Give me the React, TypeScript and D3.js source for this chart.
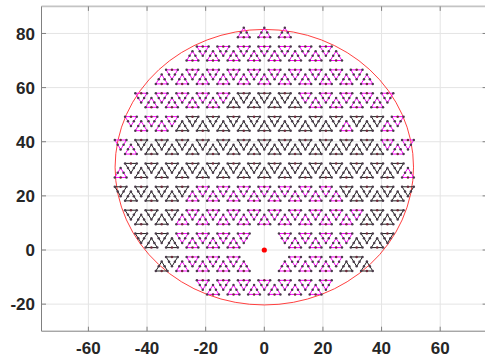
import React from 'react';
import * as d3 from 'd3';

// Axis ticks
const X_TICKS = [-60, -40, -20, 0, 20, 40, 60];
const Y_TICKS = [-20, 0, 20, 40, 60, 80];

// Triangle layout: strips from top (k=0) to bottom; each char is one
// triangle at lattice column m = index + M_MIN ('m' magenta, 'k' black, '.' none)
const M_MIN = -15;
const STRIPS = [
  '.............m.m.m.............',
  '........mmmmmmmmmmmmmmm........',
  '.....mmmmmmmmmmmmmmmmmmmmm.....',
  '...mmmmmmmmmkkkkkkkmmmmmmmmm...',
  '..mmmmmkkkkkkkkkkkkkkkkmkkkmm..',
  '.mmkkkkkkkkkkkkkkkkkkkkkkkkmmm.',
  '.mkkkkkkkkkkkkkkkkkkkkkkkkkkkm.',
  '.kkkkkkkmmmmmmmmmmmmmmmkkkkkkk.',
  '..kkkkkmmmmmmmmmmmmmmmmmmkkkk..',
  '...kkkkmmmmmmm...mmmmmmmkkkk...',
  '.....kkmmmmmmm...mmmmmmkkk.....',
  '.........mmmmmmmmmmmmm.........',
];

// Lattice geometry (data units)
const HALF_PITCH = 3.5;   // x distance between neighbouring triangles
const STRIP_H = 8.64;     // strip height
const TOP_STRIP_BOTTOM = 76.92;
const SIDE = 4;           // triangle side

// Circle and feed point
const CIRCLE_CENTER = [0, 30.6];
const CIRCLE_R = 50.9;
const FEED = [0, 0];

const COLORS: Record<string, string> = { m: '#ff00ff', k: '#222222' };

export default function App() {
  const W = 485, H = 362;
  const x = d3.scaleLinear().domain([-76, 76]).range([41.5, 487.1]);
  const y = d3.scaleLinear().domain([-30, 90]).range([331.2, 6.4]);

  const th = (SIDE * Math.sqrt(3)) / 2;
  type Tri = { pts: [number, number][]; color: string; key: string };
  const tris: Tri[] = [];
  STRIPS.forEach((row, k) => {
    const yb = TOP_STRIP_BOTTOM - STRIP_H * k;
    row.split('').forEach((ch, i) => {
      if (ch === '.') return;
      const m = i + M_MIN;
      const up = (((m + k) % 2) + 2) % 2 === 0;
      const xc = m * HALF_PITCH;
      let pts: [number, number][];
      if (up) {
        const cy = yb + STRIP_H / 3;
        pts = [[xc, cy + (2 * th) / 3], [xc + SIDE / 2, cy - th / 3], [xc - SIDE / 2, cy - th / 3]];
      } else {
        const cy = yb + (2 * STRIP_H) / 3;
        pts = [[xc, cy - (2 * th) / 3], [xc - SIDE / 2, cy + th / 3], [xc + SIDE / 2, cy + th / 3]];
      }
      tris.push({ pts, color: COLORS[ch], key: `${k}-${m}` });
    });
  });

  const line = d3.line<[number, number]>().x(d => x(d[0])).y(d => y(d[1]));

  const font = "'Liberation Sans', Arial, Helvetica, sans-serif";
  const x0 = x.range()[0], x1 = x.range()[1];
  const y0 = y.range()[1], y1 = y.range()[0];

  return (
    <svg width={W} height={H} style={{ position: 'absolute', left: 0, top: 0, background: '#fff' }}>
      <rect x={0} y={0} width={W} height={H} fill="#fff" />
      {/* grid */}
      {X_TICKS.map(t => (
        <line key={'gx' + t} x1={x(t)} x2={x(t)} y1={y0} y2={y1} stroke="#e4e4e4" strokeWidth={1} />
      ))}
      {Y_TICKS.map(t => (
        <line key={'gy' + t} x1={x0} x2={x1} y1={y(t)} y2={y(t)} stroke="#e4e4e4" strokeWidth={1} />
      ))}
      {/* circle */}
      <ellipse
        cx={x(CIRCLE_CENTER[0])}
        cy={y(CIRCLE_CENTER[1])}
        rx={x(CIRCLE_R) - x(0)}
        ry={y(0) - y(CIRCLE_R)}
        fill="none"
        stroke="#ff2a2a"
        strokeWidth={0.9}
      />
      {/* triangles */}
      {tris.map(t => (
        <path key={t.key} d={line([...t.pts, t.pts[0]]) || ''} fill="none" stroke={t.color} strokeWidth={1} />
      ))}
      {/* element dots */}
      {tris.map(t => {
        const [a, b, c] = t.pts;
        const pts = [a, b, c, [(a[0] + b[0]) / 2, (a[1] + b[1]) / 2], [(a[0] + c[0]) / 2, (a[1] + c[1]) / 2]];
        const base = [(b[0] + c[0]) / 2, (b[1] + c[1]) / 2];
        return (
          <g key={'d' + t.key}>
            {pts.map((p, j) => (
              <circle key={j} cx={x(p[0])} cy={y(p[1])} r={1.25} fill="#4a3b4a" />
            ))}
            <circle cx={x(base[0])} cy={y(base[1])} r={1.25} fill="#6e2a3a" />
          </g>
        );
      })}
      {/* feed point */}
      <circle cx={x(FEED[0])} cy={y(FEED[1])} r={2.6} fill="#ff0000" />
      {/* axes box */}
      <line x1={x0} x2={x1} y1={y0} y2={y0} stroke="#c4c4c4" strokeWidth={1.6} />
      <line x1={x0} x2={x0} y1={y0} y2={y1} stroke="#808080" strokeWidth={1} />
      <line x1={x0} x2={x1} y1={y1} y2={y1} stroke="#808080" strokeWidth={1} />
      <line x1={x1} x2={x1} y1={y0} y2={y1} stroke="#808080" strokeWidth={1} />
      {X_TICKS.map(t => (
        <g key={'tx' + t}>
          <line x1={x(t)} x2={x(t)} y1={y1} y2={y1 - 4.5} stroke="#808080" />
          <line x1={x(t)} x2={x(t)} y1={y0} y2={y0 + 4.5} stroke="#808080" />
          <text x={x(t)} y={354} textAnchor="middle" fontFamily={font} fontWeight="bold" fontSize={17} fill="#262626">
            {t}
          </text>
        </g>
      ))}
      {Y_TICKS.map(t => (
        <g key={'ty' + t}>
          <line x1={x0} x2={x0 + 4.5} y1={y(t)} y2={y(t)} stroke="#808080" />
          <line x1={x1} x2={x1 - 4.5} y1={y(t)} y2={y(t)} stroke="#808080" />
          <text x={35} y={y(t) + 6.3} textAnchor="end" fontFamily={font} fontWeight="bold" fontSize={17} fill="#262626">
            {t}
          </text>
        </g>
      ))}
    </svg>
  );
}
